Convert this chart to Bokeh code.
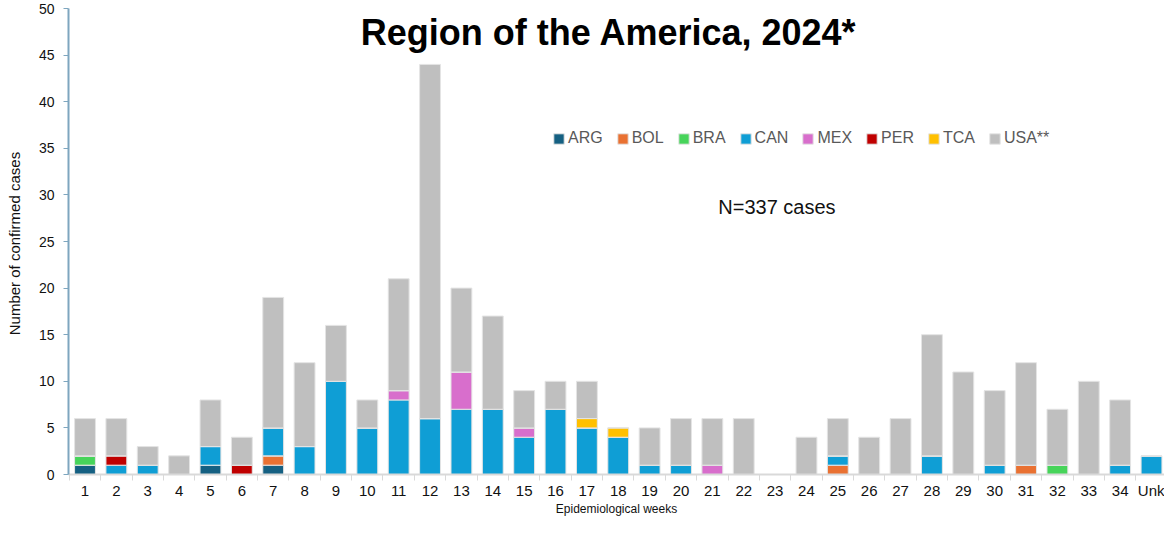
from bokeh.plotting import figure
from bokeh.models import ColumnDataSource, Range1d, FixedTicker, Label
from bokeh.embed import file_html
from bokeh.resources import INLINE

weeks = [str(i) for i in range(1, 35)] + ["Unk"]
countries = ["ARG", "BOL", "BRA", "CAN", "MEX", "PER", "TCA", "USA**"]
colors = ["#156082", "#E97132", "#47D45A", "#0F9ED5", "#D86ECC", "#C00000", "#FFC000", "#BFBFBF"]

ARG = [1,0,0,0,1,0,1,0,0,0,0,0,0,0,0,0,0,0,0,0,0,0,0,0,0,0,0,0,0,0,0,0,0,0,0]
BOL = [0,0,0,0,0,0,1,0,0,0,0,0,0,0,0,0,0,0,0,0,0,0,0,0,1,0,0,0,0,0,1,0,0,0,0]
BRA = [1,0,0,0,0,0,0,0,0,0,0,0,0,0,0,0,0,0,0,0,0,0,0,0,0,0,0,0,0,0,0,1,0,0,0]
CAN = [0,1,1,0,2,0,3,3,10,5,8,6,7,7,4,7,5,4,1,1,0,0,0,0,1,0,0,2,0,1,0,0,0,1,2]
MEX = [0,0,0,0,0,0,0,0,0,0,1,0,4,0,1,0,0,0,0,0,1,0,0,0,0,0,0,0,0,0,0,0,0,0,0]
PER = [0,1,0,0,0,1,0,0,0,0,0,0,0,0,0,0,0,0,0,0,0,0,0,0,0,0,0,0,0,0,0,0,0,0,0]
TCA = [0,0,0,0,0,0,0,0,0,0,0,0,0,0,0,0,1,1,0,0,0,0,0,0,0,0,0,0,0,0,0,0,0,0,0]
USA = [4,4,2,2,5,3,14,9,6,3,12,38,9,10,4,3,4,0,4,5,5,6,0,4,4,4,6,13,11,8,11,6,10,7,0]

y_ticks = list(range(0, 51, 5))
title_text = "Region of the America, 2024*"
n_text = "N=337 cases"
y_title = "Number of  confirmed cases"
x_title = "Epidemiological weeks"

source = ColumnDataSource(dict(
    x=list(range(len(weeks))),
    **{"ARG": ARG, "BOL": BOL, "BRA": BRA, "CAN": CAN, "MEX": MEX,
       "PER": PER, "TCA": TCA, "USA**": USA}))

p = figure(width=1164, height=518, output_backend="svg", toolbar_location=None,
           x_range=Range1d(-0.526, 34.414), y_range=Range1d(0, 50),
           min_border_left=68, min_border_right=0, min_border_top=8, min_border_bottom=36)
p.outline_line_color = None
p.xgrid.grid_line_color = None
p.ygrid.grid_line_color = None
p.background_fill_color = "white"

p.vbar_stack(countries, x="x", width=0.665, source=source, color=colors,
             line_color="#e4e4e4", line_width=1, legend_label=countries)

# x axis
xa = p.xaxis[0]
xa.ticker = FixedTicker(ticks=list(range(len(weeks))),
                        minor_ticks=[i - 0.5 for i in range(len(weeks) + 1)])
xa.major_label_overrides = {i: w for i, w in enumerate(weeks)}
xa.major_tick_line_color = None
xa.major_tick_out = 0
xa.minor_tick_out = 6
xa.minor_tick_in = 0
xa.minor_tick_line_color = "#d9d9d9"
xa.axis_line_color = "#d9d9d9"
xa.axis_line_width = 2
xa.major_label_text_font = "Liberation Sans"
xa.major_label_text_font_size = "15px"
xa.major_label_text_color = "#111111"
xa.major_label_standoff = 1
xa.axis_label = x_title
xa.axis_label_text_font = "Liberation Sans"
xa.axis_label_text_font_size = "12px"
xa.axis_label_text_font_style = "normal"
xa.axis_label_text_color = "#111111"
xa.axis_label_standoff = 0

# y axis
ya = p.yaxis[0]
ya.ticker = FixedTicker(ticks=y_ticks, minor_ticks=[])
ya.axis_line_color = "#7ea6bf"
ya.axis_line_width = 2
ya.major_tick_line_color = "#7ea6bf"
ya.major_tick_out = 5
ya.major_tick_in = 0
ya.minor_tick_line_color = None
ya.major_label_text_font = "Liberation Sans"
ya.major_label_text_font_size = "14px"
ya.major_label_text_color = "#111111"
ya.major_label_standoff = 9
ya.axis_label = y_title
ya.axis_label_text_font = "Liberation Sans"
ya.axis_label_text_font_size = "15px"
ya.axis_label_text_font_style = "normal"
ya.axis_label_text_color = "#111111"
ya.axis_label_standoff = 13

# legend
lg = p.legend[0]
lg.orientation = "horizontal"
lg.location = (484, 327)
lg.padding = 0
lg.margin = 0
lg.border_line_color = None
lg.background_fill_alpha = 0
lg.glyph_width = 13
lg.glyph_height = 13
lg.label_standoff = 3
lg.spacing = 13
lg.label_text_font = "Liberation Sans"
lg.label_text_font_size = "16px"
lg.label_text_color = "#595959"
lg.label_height = 18

p.add_layout(Label(x=16.70, y=47.42, text=title_text, text_align="center",
                   text_baseline="alphabetic", text_font="Liberation Sans",
                   text_font_style="bold", text_font_size="36px", text_color="black"))
p.add_layout(Label(x=20.19, y=28.65, text=n_text, text_align="left",
                   text_baseline="middle", text_font="Liberation Sans",
                   text_font_size="20px", text_color="#111111"))

open("out.html", "w").write(file_html(p, INLINE))
